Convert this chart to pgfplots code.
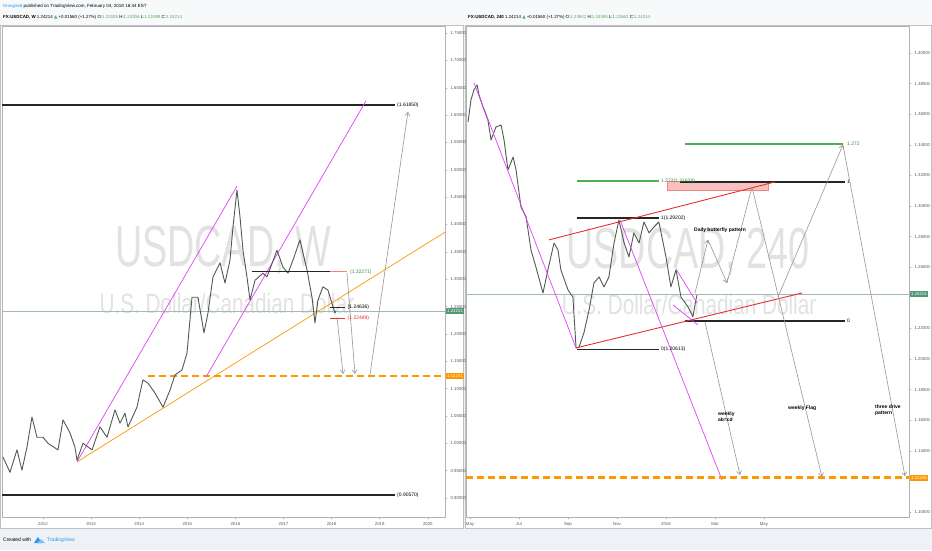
\documentclass[border=0pt]{standalone}
\usepackage{pgfplots}
\pgfplotsset{compat=1.18}
\usepackage{fontspec}
\setmainfont{Liberation Sans}
\newfontfamily\symfont{DejaVu Sans}
\usetikzlibrary{arrows.meta}
\definecolor{bgc}{RGB}{238,241,245}
\definecolor{mag}{RGB}{224,64,251}
\definecolor{orng}{RGB}{255,152,0}
\definecolor{redl}{RGB}{232,48,42}
\definecolor{greenl}{RGB}{76,175,80}
\definecolor{arrowc}{RGB}{150,150,150}
\definecolor{pricec}{RGB}{80,90,82}
\definecolor{curc}{RGB}{160,190,175}
\definecolor{boxg}{RGB}{83,150,120}
\definecolor{tvblue}{RGB}{33,150,243}
\definecolor{wm}{RGB}{226,226,226}
\newcommand\lbl{\fontsize{5}{6}\selectfont}
\newcommand\tck{\fontsize{4.3}{5}\selectfont}
\pgfplotsset{
 tvaxis/.style={scale only axis, width=443pt, height=491pt, anchor=south west,
   axis line style={draw=black!30, line width=0.6pt},
   tick align=outside, major tick length=2pt, tick style={black!35, line width=0.4pt},
   yticklabel pos=right, ytick pos=right, xtick pos=bottom,
   tick label style={font=\tck, text=black!65},
   /pgf/number format/assume math mode=true,
   clip=false},
 price/.style={color=pricec, line width=0.9pt, line join=round},
 fib/.style={color=black!85, line width=1.3pt},
 thin/.style={line width=0.7pt},
 garrow/.style={color=arrowc, line width=0.6pt, -{Straight Barb[length=3.5pt,width=5pt]}},
 gline/.style={color=arrowc, line width=0.6pt},
 curline/.style={color=curc, line width=0.5pt},
 odash/.style={draw=orng, line width=1.8pt, dash pattern=on 7pt off 4pt},
}
\begin{document}
\begin{tikzpicture}[x=1pt,y=1pt]
\path[use as bounding box] (0,0) rectangle (932,550);
\fill[bgc] (0,0) rectangle (932,550);
\fill[white!60!bgc] (0,525) rectangle (932,550);
\filldraw[fill=white,draw=black!25,line width=0.5pt] (0.5,22) rectangle (463.5,524.5);
\filldraw[fill=white,draw=black!25,line width=0.5pt] (465.5,22) rectangle (931.5,524.5);
% headers
\node[anchor=west,inner sep=0pt,font=\fontsize{4.5}{5}\selectfont] at (3,544) {\textcolor{tvblue}{lzmogsed} published on TradingView.com, February 04, 2018 16:44 EST};
\node[anchor=west,inner sep=0pt,font=\fontsize{4.4}{5}\selectfont] at (3,533) {\textbf{FX:USDCAD, W} 1.24214 {\symfont\textcolor{greenl}{▲}} +0.01560 (+1.27\%) O:\textcolor{greenl}{1.23105} H:\textcolor{greenl}{1.24356} L:\textcolor{greenl}{1.22489} C:\textcolor{greenl}{1.24214}};
\node[anchor=west,inner sep=0pt,font=\fontsize{4.4}{5}\selectfont] at (468,533) {\textbf{FX:USDCAD, 240} 1.24214 {\symfont\textcolor{greenl}{▲}} +0.01560 (+1.27\%) O:\textcolor{greenl}{1.23941} H:\textcolor{greenl}{1.24385} L:\textcolor{greenl}{1.23662} C:\textcolor{greenl}{1.24214}};
\node[anchor=west,inner sep=0pt,font=\fontsize{5}{6}\selectfont] at (3,10) {Created with};
\fill[tvblue] (34,7) -- (38,13) -- (42,7) -- cycle;
\fill[tvblue!60] (37,7) -- (41,11) -- (45,7) -- cycle;
\node[anchor=west,inner sep=0pt,font=\fontsize{5}{6}\selectfont,text=tvblue] at (47,10) {TradingView};

% ---------------- LEFT: weekly ----------------
\begin{axis}[tvaxis, at={(2pt,33pt)},
  xmin=2011.148, xmax=2020.358, ymin=0.8653, ymax=1.7628,
  xtick={2012,2013,2014,2015,2016,2017,2018,2019,2020},
  xticklabel style={/pgf/number format/1000 sep={}},
  ytick={0.90,0.95,1.00,1.05,1.10,1.15,1.20,1.25,1.30,1.35,1.40,1.45,1.50,1.55,1.60,1.65,1.70,1.75},
  yticklabel style={/pgf/number format/fixed, /pgf/number format/fixed zerofill, /pgf/number format/precision=5},
]
\node[text=wm,font=\fontsize{58}{60}\selectfont,xscale=0.65] at (axis cs:2015.742,1.3533) {USDCAD, W};
\node[text=wm,font=\fontsize{28}{30}\selectfont,xscale=0.74] at (axis cs:2015.825,1.2564) {U.S. Dollar/Canadian Dollar};
\addplot[curline] coordinates {(2011.148,1.24214)(2020.358,1.24214)};
\addplot[odash] coordinates {(2014.183,1.12241)(2020.358,1.12241)};
\addplot[fib] coordinates {(2011.148,1.6185)(2019.318,1.6185)};
\addplot[fib] coordinates {(2011.148,0.9057)(2019.318,0.9057)};
\addplot[color=orng, thin] coordinates {(2012.707,0.966)(2020.358,1.386)};
\addplot[color=mag, thin] coordinates {(2012.707,0.966)(2016.033,1.470)};
\addplot[color=mag, thin] coordinates {(2015.389,1.121)(2018.715,1.626)};
\addplot[price] coordinates {(2011.168,0.975)(2011.314,0.947)(2011.459,0.988)(2011.563,0.951)(2011.667,0.993)(2011.771,1.048)(2011.875,1.011)(2012.0,1.011)(2012.104,1.000)(2012.312,0.988)(2012.416,1.043)(2012.561,1.019)(2012.665,0.993)(2012.707,0.969)(2012.832,1.000)(2013.019,0.988)(2013.185,1.030)(2013.331,1.011)(2013.497,1.061)(2013.601,1.037)(2013.705,1.055)(2013.767,1.030)(2013.954,1.066)(2014.017,1.092)(2014.079,1.116)(2014.183,1.110)(2014.328,1.092)(2014.495,1.066)(2014.640,1.097)(2014.744,1.125)(2014.890,1.134)(2014.994,1.165)(2015.098,1.267)(2015.222,1.267)(2015.347,1.202)(2015.430,1.238)(2015.534,1.304)(2015.680,1.330)(2015.784,1.293)(2015.888,1.335)(2015.950,1.395)(2016.033,1.463)(2016.096,1.414)(2016.158,1.353)(2016.241,1.304)(2016.304,1.262)(2016.408,1.298)(2016.574,1.311)(2016.657,1.304)(2016.865,1.353)(2016.990,1.322)(2017.094,1.311)(2017.198,1.335)(2017.343,1.372)(2017.405,1.348)(2017.489,1.317)(2017.593,1.267)(2017.655,1.220)(2017.717,1.262)(2017.821,1.286)(2017.925,1.280)(2018.008,1.256)(2018.071,1.238)(2018.09,1.242)};
\addplot[fib] coordinates {(2016.345,1.3136)(2017.967,1.3136)};
\addplot[color=redl!60, line width=1.3pt] coordinates {(2017.967,1.3136)(2018.32,1.3136)};
\addplot[color=black!85, line width=1pt] coordinates {(2017.967,1.249)(2018.279,1.249)};
\addplot[color=redl, line width=1pt] coordinates {(2017.967,1.229)(2018.279,1.229)};
\addplot[garrow] coordinates {(2018.112,1.231)(2018.237,1.127)};
\addplot[garrow] coordinates {(2018.32,1.311)(2018.486,1.127)};
\addplot[garrow] coordinates {(2018.798,1.125)(2019.588,1.606)};
\node[anchor=west,font=\lbl,inner sep=1pt] at (axis cs:2019.34,1.6185) {(1.61850)};
\node[anchor=west,font=\lbl,inner sep=1pt] at (axis cs:2019.34,0.9057) {(0.90570)};
\node[anchor=west,font=\lbl,inner sep=1pt,text=greenl!80!black] at (axis cs:2018.36,1.3136) {(1.32271)};
\node[anchor=west,font=\lbl,inner sep=0.5pt] at (axis cs:2018.32,1.249) {(1.24636)};
\node[anchor=west,font=\lbl,inner sep=0.5pt,text=redl] at (axis cs:2018.32,1.229) {(1.22489)};
\node[anchor=west,fill=boxg,text=white,font=\fontsize{4.3}{5}\selectfont,inner xsep=1pt,inner ysep=1.5pt,xshift=1pt] at (axis cs:2020.358,1.24214) {1.24214};
\node[anchor=west,fill=orng,text=white,font=\fontsize{4.3}{5}\selectfont,inner xsep=1pt,inner ysep=1.5pt,xshift=1pt] at (axis cs:2020.358,1.12241) {1.12241};
\end{axis}

% ---------------- RIGHT: 240 ----------------
\begin{axis}[tvaxis, at={(466pt,33pt)},
  xmin=-0.163, xmax=17.92, ymin=1.0967, ymax=1.4176,
  xtick={0,2,4,6,8,10,12},
  xticklabels={May,Jul,Sep,Nov,2018,Mar,May},
  ytick={1.10,1.14,1.16,1.18,1.20,1.22,1.26,1.28,1.30,1.32,1.34,1.36,1.38,1.40},
  yticklabel style={/pgf/number format/fixed, /pgf/number format/fixed zerofill, /pgf/number format/precision=5},
]
\node[text=wm,font=\fontsize{58}{60}\selectfont,xscale=0.65] at (axis cs:8.898,1.2699) {USDCAD, 240};
\node[text=wm,font=\fontsize{28}{30}\selectfont,xscale=0.74] at (axis cs:8.94,1.2353) {U.S. Dollar/Canadian Dollar};
\addplot[curline] coordinates {(-0.163,1.24214)(17.92,1.24214)};
\fill[redl!30] (axis cs:8.041,1.3163) rectangle (axis cs:12.163,1.3105);
\draw[redl!60,line width=0.3pt] (axis cs:8.041,1.3163) rectangle (axis cs:12.163,1.3105);
\addplot[fib] coordinates {(4.367,1.29202)(7.714,1.29202)};
\addplot[fib] coordinates {(4.367,1.20613)(7.714,1.20613)};
\addplot[color=greenl, line width=1.3pt] coordinates {(4.367,1.31638)(7.714,1.31638)};
\addplot[fib] coordinates {(8.571,1.3157)(15.306,1.3157)};
\addplot[color=greenl, line width=1.3pt] coordinates {(8.776,1.3405)(15.224,1.3405)};
\addplot[fib] coordinates {(8.776,1.2248)(15.306,1.2248)};
\addplot[price] coordinates {(-0.08,1.3549)(0.04,1.3693)(0.16,1.3758)(0.29,1.3791)(0.37,1.3725)(0.53,1.3647)(0.73,1.3562)(0.86,1.3431)(1.06,1.3516)(1.27,1.3529)(1.39,1.3431)(1.55,1.3235)(1.76,1.3320)(1.88,1.3235)(2.08,1.2993)(2.29,1.2928)(2.49,1.2712)(2.69,1.2601)(2.98,1.2431)(3.18,1.2582)(3.43,1.2758)(3.59,1.2712)(3.71,1.2582)(4.0,1.2451)(4.2,1.2405)(4.33,1.2072)(4.45,1.2078)(4.65,1.2170)(4.86,1.2320)(5.06,1.2497)(5.27,1.2536)(5.47,1.2471)(5.67,1.2536)(5.88,1.2758)(6.08,1.2908)(6.29,1.2758)(6.49,1.2667)(6.69,1.2824)(6.90,1.2758)(7.10,1.2895)(7.31,1.2824)(7.51,1.2863)(7.71,1.2895)(8.0,1.2667)(8.2,1.2471)(8.41,1.2582)(8.61,1.2405)(8.90,1.2340)(9.10,1.2275)(9.22,1.2386)(9.27,1.2418)};
\addplot[color=redl, line width=0.9pt] coordinates {(3.224,1.2778)(12.449,1.3157)};
\addplot[color=redl, line width=0.9pt] coordinates {(4.327,1.2072)(13.551,1.2431)};
\addplot[color=mag, thin] coordinates {(0.163,1.3804)(4.327,1.2072)};
\addplot[color=mag, thin] coordinates {(6.122,1.2908)(10.286,1.1209)};
\addplot[color=mag, thin] coordinates {(8.408,1.2588)(9.265,1.2366)};
\addplot[color=mag, thin] coordinates {(8.286,1.2353)(9.306,1.2222)};
\addplot[garrow] coordinates {(9.184,1.2431)(9.714,1.2778)};
\addplot[garrow] coordinates {(9.714,1.2778)(10.490,1.2497)};
\addplot[gline] coordinates {(10.490,1.2497)(11.510,1.3124)};
\addplot[garrow] coordinates {(11.510,1.3124)(14.367,1.1229)};
\addplot[garrow] coordinates {(9.592,1.2242)(11.020,1.1242)};
\addplot[garrow] coordinates {(12.571,1.2405)(15.224,1.3399)};
\addplot[garrow] coordinates {(15.224,1.3399)(17.755,1.1235)};
\addplot[draw=orng, line width=2.2pt, dash pattern=on 7pt off 4pt] coordinates {(-0.163,1.12248)(17.92,1.12248)};
\node[anchor=west,font=\lbl,inner sep=1pt] at (axis cs:7.75,1.29202) {1(1.29202)};
\node[anchor=west,font=\lbl,inner sep=1pt] at (axis cs:7.75,1.20613) {0(1.20613)};
\node[anchor=west,font=\lbl,inner sep=1pt,text=greenl!80!black] at (axis cs:7.75,1.31638) {1.272(1.31638)};
\node[anchor=west,font=\lbl,inner sep=1pt] at (axis cs:15.35,1.3157) {1};
\node[anchor=west,font=\lbl,inner sep=1pt,text=greenl!80!black] at (axis cs:15.35,1.3405) {1.272};
\node[anchor=west,font=\lbl,inner sep=1pt] at (axis cs:15.35,1.2248) {0};
\node[font=\fontsize{5}{6}\selectfont\bfseries,inner sep=0pt] at (axis cs:10.204,1.2843) {Daily butterfly pattern};
\node[anchor=west,align=left,font=\fontsize{5}{5.8}\selectfont\bfseries,inner sep=0pt] at (axis cs:10.122,1.1621) {weekly\\ab=cd};
\node[anchor=west,font=\fontsize{5}{6}\selectfont\bfseries,inner sep=0pt] at (axis cs:12.98,1.168) {weekly Flag};
\node[anchor=west,align=left,font=\fontsize{5}{5.8}\selectfont\bfseries,inner sep=0pt] at (axis cs:16.53,1.1667) {three drive\\pattern};
\node[anchor=west,fill=boxg,text=white,font=\fontsize{4.3}{5}\selectfont,inner xsep=1pt,inner ysep=1.5pt,xshift=1pt] at (axis cs:17.92,1.24214) {1.24214};
\node[anchor=west,fill=orng,text=white,font=\fontsize{4.3}{5}\selectfont,inner xsep=1pt,inner ysep=1.5pt,xshift=1pt] at (axis cs:17.92,1.12248) {1.12248};
\end{axis}
\end{tikzpicture}
\end{document}
